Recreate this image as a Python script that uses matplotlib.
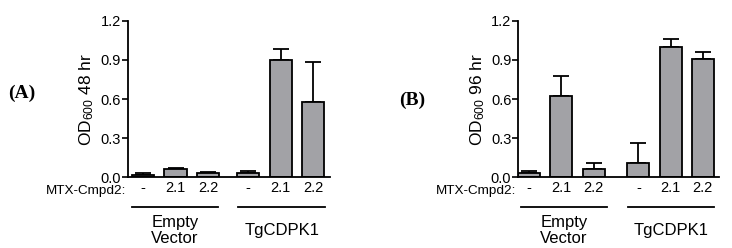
import matplotlib
matplotlib.use("Agg")
import matplotlib.pyplot as plt
from matplotlib.lines import Line2D

# data
doses = ["-", "2.1", "2.2", "-", "2.1", "2.2"]
groups = ["Empty\nVector", "TgCDPK1"]
od_48 = [0.02, 0.06, 0.03, 0.03, 0.90, 0.58]
err_48 = [0.01, 0.01, 0.01, 0.02, 0.08, 0.30]
od_96 = [0.03, 0.62, 0.06, 0.11, 1.00, 0.91]
err_96 = [0.02, 0.16, 0.05, 0.15, 0.06, 0.05]

plt.rcParams['font.family'] = ['Liberation Sans', 'DejaVu Sans']
plt.rcParams['mathtext.default'] = 'regular'

fig = plt.figure(figsize=(7.32, 2.48), dpi=100)


def panel(rect, vals, errs, ylab, gap, xlim, lines):
    ax = fig.add_axes(rect)
    xs = [0, 1, 2, 2 + gap, 3 + gap, 4 + gap]
    ax.bar(xs, vals, width=0.68, color="#a2a2a6", edgecolor="black",
           linewidth=1.3, zorder=2)
    ax.errorbar(xs, vals, yerr=[[0] * len(errs), errs], fmt="none",
                ecolor="black", elinewidth=1.3, capsize=5.5, capthick=1.3,
                zorder=1)
    ax.set_xlim(*xlim)
    ax.set_ylim(0, 1.2)
    ax.set_yticks([0, 0.3, 0.6, 0.9, 1.2])
    ax.set_yticklabels(["0.0", "0.3", "0.6", "0.9", "1.2"])
    ax.set_xticks(xs)
    ax.set_xticklabels(doses)
    ax.tick_params(axis="x", length=0, pad=3, labelsize=10.5)
    ax.tick_params(axis="y", length=4, width=1.2, pad=1, labelsize=10.5)
    for s in ["top", "right"]:
        ax.spines[s].set_visible(False)
    for s in ["left", "bottom"]:
        ax.spines[s].set_linewidth(1.3)
    ax.set_ylabel(ylab, fontsize=12.5, labelpad=3)
    tr = ax.get_xaxis_transform()
    ax.text(xlim[0] - 0.05, -0.09, "MTX-Cmpd2:", transform=tr, ha="right",
            va="center", fontsize=9.7)
    for (x0, x1), g in zip(lines, groups):
        ax.add_line(Line2D([x0, x1], [-0.188, -0.188], transform=tr,
                           color="black", lw=1.3, clip_on=False))
        ax.text((x0 + x1) / 2, -0.34, g, transform=tr, ha="center",
                va="center", fontsize=12, linespacing=1.05)
    return ax


panel([0.1745, 0.285, 0.2763, 0.6315], od_48, err_48,
      "OD$_{600}$ 48 hr", 1.23, (-0.47, 5.75),
      [(-0.35, 2.32), (2.93, 5.6)])
panel([0.708, 0.285, 0.2742, 0.6315], od_96, err_96,
      "OD$_{600}$ 96 hr", 1.39, (-0.34, 5.89),
      [(-0.27, 2.43), (3.07, 5.75)])

fig.text(0.030, 0.625, "(A)", family="Liberation Serif", weight="bold",
         fontsize=14, ha="center", va="center")
fig.text(0.563, 0.597, "(B)", family="Liberation Serif", weight="bold",
         fontsize=14, ha="center", va="center")

fig.savefig("out.png", dpi=100)
